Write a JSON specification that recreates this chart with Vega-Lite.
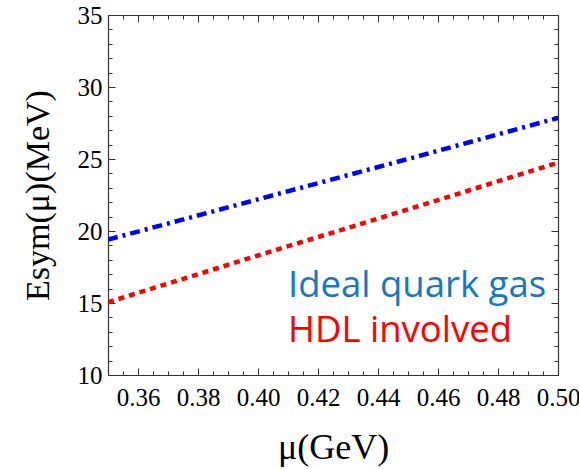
{
  "$schema": "https://vega.github.io/schema/vega-lite/v6.json",
  "width": 450,
  "height": 360,
  "autosize": "none",
  "padding": {"left": 108, "top": 15, "right": 21, "bottom": 94},
  "background": "white",
  "config": {"view": {"stroke": null}},
  "datasets": {
    "lines": [
      {"mu": 0.35, "E": 19.4, "series": "Ideal quark gas"},
      {"mu": 0.40, "E": 22.2, "series": "Ideal quark gas"},
      {"mu": 0.45, "E": 25.0, "series": "Ideal quark gas"},
      {"mu": 0.50, "E": 27.85, "series": "Ideal quark gas"},
      {"mu": 0.35, "E": 15.05, "series": "HDL involved"},
      {"mu": 0.40, "E": 18.3, "series": "HDL involved"},
      {"mu": 0.45, "E": 21.5, "series": "HDL involved"},
      {"mu": 0.50, "E": 24.75, "series": "HDL involved"}
    ],
    "labels": [
      {"mu": 0.41, "E": 15.42, "text": "Ideal quark gas", "series": "Ideal quark gas"},
      {"mu": 0.41, "E": 12.29, "text": "HDL involved", "series": "HDL involved"}
    ]
  },
  "layer": [
    {
      "data": {"name": "lines"},
      "mark": {"type": "line", "strokeWidth": 4.5, "clip": true},
      "encoding": {
        "x": {
          "field": "mu", "type": "quantitative",
          "scale": {"domain": [0.35, 0.50], "nice": false, "zero": false},
          "axis": {
            "orient": "bottom",
            "title": "μ(GeV)",
            "titleFont": "Liberation Serif", "titleFontSize": 36, "titleFontWeight": "normal", "titleColor": "black", "titlePadding": 17,
            "values": [0.35,0.355,0.36,0.365,0.37,0.375,0.38,0.385,0.39,0.395,0.40,0.405,0.41,0.415,0.42,0.425,0.43,0.435,0.44,0.445,0.45,0.455,0.46,0.465,0.47,0.475,0.48,0.485,0.49,0.495,0.50],
            "labelExpr": "round(datum.value*1000) % 20 == 0 ? format(datum.value, '.2f') : ''",
            "labelFont": "Liberation Serif", "labelFontSize": 25, "labelColor": "black",
            "labelFlush": false, "labelOverlap": false, "labelPadding": 17,
            "tickSize": {"condition": {"test": "round(datum.value*1000) % 20 == 0", "value": -7}, "value": -4},
            "tickColor": "#333", "domainColor": "#333", "tickWidth": 1, "domainWidth": 1.2,
            "grid": false
          }
        },
        "y": {
          "field": "E", "type": "quantitative",
          "scale": {"domain": [10, 35], "nice": false, "zero": false},
          "axis": {
            "orient": "left",
            "title": "Esym(μ)(MeV)",
            "titleFont": "Liberation Serif", "titleFontSize": 34, "titleFontWeight": "normal", "titleColor": "black", "titlePadding": 22,
            "values": [10,11,12,13,14,15,16,17,18,19,20,21,22,23,24,25,26,27,28,29,30,31,32,33,34,35],
            "labelExpr": "datum.value % 5 == 0 ? format(datum.value, 'd') : ''",
            "labelFont": "Liberation Serif", "labelFontSize": 25, "labelColor": "black",
            "labelFlush": false, "labelOverlap": false, "labelPadding": 13,
            "tickSize": {"condition": {"test": "datum.value % 5 == 0", "value": -7}, "value": -4},
            "tickColor": "#333", "domainColor": "#333", "tickWidth": 1, "domainWidth": 1.2,
            "grid": false
          }
        },
        "color": {
          "field": "series", "type": "nominal",
          "scale": {"domain": ["Ideal quark gas", "HDL involved"], "range": ["#0000FF", "#FF0000"]},
          "legend": null
        },
        "strokeDash": {
          "field": "series", "type": "nominal",
          "scale": {"domain": ["Ideal quark gas", "HDL involved"], "range": [[10, 5, 3, 5], [6, 5]]},
          "legend": null
        }
      }
    },
    {
      "data": {"name": "labels"},
      "mark": {"type": "text", "align": "left", "baseline": "alphabetic", "font": "Open Sans", "fontSize": 36.5},
      "encoding": {
        "x": {"field": "mu", "type": "quantitative", "axis": null},
        "y": {"field": "E", "type": "quantitative", "axis": null},
        "text": {"field": "text"},
        "color": {
          "field": "series", "type": "nominal",
          "scale": {"domain": ["Ideal quark gas", "HDL involved"], "range": ["#1478C8", "#FF0000"]},
          "legend": null
        }
      }
    },
    {
      "data": {"name": "lines"},
      "mark": {"type": "line", "opacity": 0},
      "encoding": {
        "x": {
          "field": "mu", "type": "quantitative",
          "axis": {
            "orient": "top", "title": null, "labels": false,
            "values": [0.35,0.355,0.36,0.365,0.37,0.375,0.38,0.385,0.39,0.395,0.40,0.405,0.41,0.415,0.42,0.425,0.43,0.435,0.44,0.445,0.45,0.455,0.46,0.465,0.47,0.475,0.48,0.485,0.49,0.495,0.50],
            "tickSize": {"condition": {"test": "round(datum.value*1000) % 20 == 0", "value": -7}, "value": -4},
            "tickColor": "#333", "domainColor": "#333", "tickWidth": 1, "domainWidth": 1.2,
            "grid": false
          }
        },
        "y": {
          "field": "E", "type": "quantitative",
          "axis": {
            "orient": "right", "title": null, "labels": false,
            "values": [10,11,12,13,14,15,16,17,18,19,20,21,22,23,24,25,26,27,28,29,30,31,32,33,34,35],
            "tickSize": {"condition": {"test": "datum.value % 5 == 0", "value": -7}, "value": -4},
            "tickColor": "#333", "domainColor": "#333", "tickWidth": 1, "domainWidth": 1.2,
            "grid": false
          }
        }
      }
    }
  ],
  "resolve": {"axis": {"x": "independent", "y": "independent"}, "scale": {"color": "independent"}}
}
